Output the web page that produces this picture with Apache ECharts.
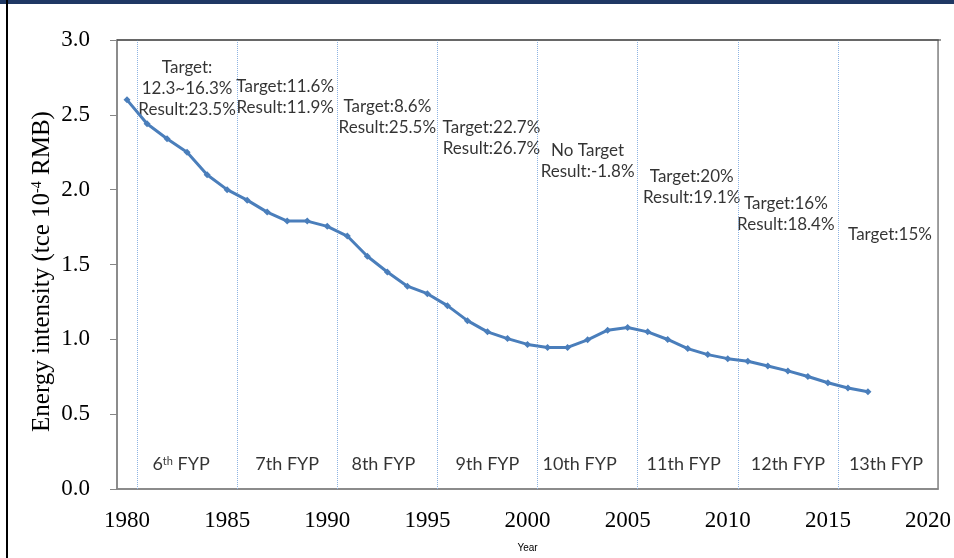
<!DOCTYPE html>
<html lang="en">
<head>
<meta charset="UTF-8">
<title>Energy intensity and Five-Year Plans</title>
<script src="https://cdn.jsdelivr.net/npm/echarts@6/dist/echarts.min.js"></script>
<style>
  html, body { margin: 0; padding: 0; background: #fff; }
</style>
</head>
<body>
<div id="main" style="width: 954px;height: 558px"></div>
<script type="text/javascript">
  // categories on the x axis
  var years = ['1980', '1981', '1982', '1983', '1984', '1985', '1986', '1987', '1988', '1989',
    '1990', '1991', '1992', '1993', '1994', '1995', '1996', '1997', '1998', '1999',
    '2000', '2001', '2002', '2003', '2004', '2005', '2006', '2007', '2008', '2009',
    '2010', '2011', '2012', '2013', '2014', '2015', '2016', '2017', '2018', '2019', '2020'];

  // energy intensity, tce per 10^4 RMB, 1980-2017
  var intensity = [2.60, 2.44, 2.34, 2.25, 2.10, 2.00, 1.93, 1.85, 1.79, 1.79,
    1.755, 1.69, 1.555, 1.45, 1.355, 1.305, 1.225, 1.125, 1.05, 1.005,
    0.966, 0.946, 0.946, 0.997, 1.061, 1.079, 1.05, 0.999, 0.938, 0.898,
    0.871, 0.853, 0.822, 0.789, 0.752, 0.71, 0.675, 0.65];

  var yTicks = [0, 0.5, 1.0, 1.5, 2.0, 2.5, 3.0];

  // five-year plans
  var fypStart = [1981, 1986, 1991, 1996, 2001, 2006, 2011, 2016];
  var fypNames = ['6{sup|th} FYP', '7th FYP', '8th FYP', '9th FYP', '10th FYP', '11th FYP', '12th FYP', '13th FYP'];
  var fypNotes = [
    'Target:\n12.3~16.3%\nResult:23.5%',
    'Target:11.6%\nResult:11.9%',
    'Target:8.6%\nResult:25.5%',
    'Target:22.7%\nResult:26.7%',
    'No Target\nResult:-1.8%',
    'Target:20%\nResult:19.1%',
    'Target:16%\nResult:18.4%',
    'Target:15%'
  ];

  // where the text sits (layout only)
  var nameX = [1982.7, 1988.0, 1992.8, 1998.0, 2002.6, 2007.8, 2013.0, 2017.9];
  var nameY = 0.164;
  var noteX = [1983.0, 1987.9, 1993.0, 1998.2, 2003.0, 2008.2, 2012.9, 2018.1];
  var noteY = [2.677, 2.621, 2.485, 2.345, 2.193, 2.017, 1.838, 1.702];

  var myChart = echarts.init(document.getElementById('main'));

  var nameData = fypNames.map(function (n, i) { return { value: [nameX[i], nameY], name: n }; });
  var noteData = fypNotes.map(function (n, i) { return { value: [noteX[i], noteY[i]], name: n }; });
  var bounds = fypStart.map(function (y) { return { xAxis: y - 0.5 }; });

  var option = {
    animation: false,
    graphic: [
      { type: 'rect', left: 0, top: 0, shape: { width: 954, height: 4 }, style: { fill: '#1f3864' } },
      { type: 'rect', left: 6, top: 0, shape: { width: 2, height: 558 }, style: { fill: '#000' } },
      { type: 'rect', left: 117, top: 39.5, shape: { width: 824, height: 1 }, style: { fill: '#333' }, z: 10 }
    ],
    grid: {
      left: 117, right: 13, top: 40, bottom: 65,
      show: true, borderColor: '#7f7f7f', borderWidth: 1.5
    },
    xAxis: [
      {
        type: 'category',
        data: years,
        boundaryGap: true,
        name: 'Year',
        nameLocation: 'middle',
        nameGap: 54,
        nameMoveOverlap: false,
        nameTextStyle: { fontFamily: 'Liberation Sans', fontSize: 10, color: '#000' },
        axisLine: { lineStyle: { color: '#868686', width: 1.5 } },
        axisTick: { interval: 0, length: 7, lineStyle: { color: '#868686' } },
        axisLabel: {
          interval: 4, margin: 20, color: '#000',
          fontFamily: 'Liberation Serif', fontSize: 23
        },
        splitLine: { show: false }
      },
      {
        type: 'value',
        min: 1979.5,
        max: 2020.5,
        show: false
      }
    ],
    yAxis: {
      type: 'value',
      min: yTicks[0],
      max: yTicks[yTicks.length - 1],
      interval: 0.5,
      name: 'Energy intensity (tce 10{sup|-4} RMB)',
      nameLocation: 'middle',
      nameGap: 62,
      nameMoveOverlap: false,
      nameTextStyle: {
        fontFamily: 'Liberation Serif', fontSize: 25, color: '#000',
        padding: [0, 14, 0, 0],
        rich: {
          sup: { fontFamily: 'Liberation Serif', fontSize: 14, verticalAlign: 'top', color: '#000' }
        }
      },
      axisLine: { show: true, lineStyle: { color: '#868686', width: 1.5 } },
      axisTick: { show: true, length: 7, lineStyle: { color: '#868686' } },
      axisLabel: {
        margin: 27, color: '#000', fontFamily: 'Liberation Serif', fontSize: 23,
        formatter: function (v) { return v.toFixed(1); }
      },
      splitLine: { show: false }
    },
    series: [
      {
        type: 'line',
        data: intensity,
        xAxisIndex: 0,
        symbol: 'diamond',
        symbolSize: 7,
        lineStyle: { color: '#4a7ebb', width: 3 },
        itemStyle: { color: '#4a7ebb' },
        z: 5
      },
      {
        type: 'line',
        xAxisIndex: 1,
        data: [],
        markLine: {
          silent: true,
          symbol: 'none',
          label: { show: false },
          lineStyle: { color: '#8eb4e3', type: 'dotted', width: 1 },
          data: bounds
        }
      },
      {
        type: 'scatter',
        xAxisIndex: 1,
        symbolSize: 0,
        data: nameData,
        label: {
          show: true, position: 'inside', color: '#000',
          fontFamily: 'Lato', fontSize: 18,
          formatter: function (p) { return p.name; },
          rich: {
            sup: { fontFamily: 'Lato', fontSize: 11, verticalAlign: 'top', color: '#000' }
          }
        }
      },
      {
        type: 'scatter',
        xAxisIndex: 1,
        symbolSize: 0,
        data: noteData,
        label: {
          show: true, position: 'inside', color: '#000',
          fontFamily: 'Lato', fontSize: 17, lineHeight: 21, align: 'center',
          formatter: function (p) { return p.name; }
        }
      }
    ]
  };

  myChart.setOption(option);
</script>
</body>
</html>
